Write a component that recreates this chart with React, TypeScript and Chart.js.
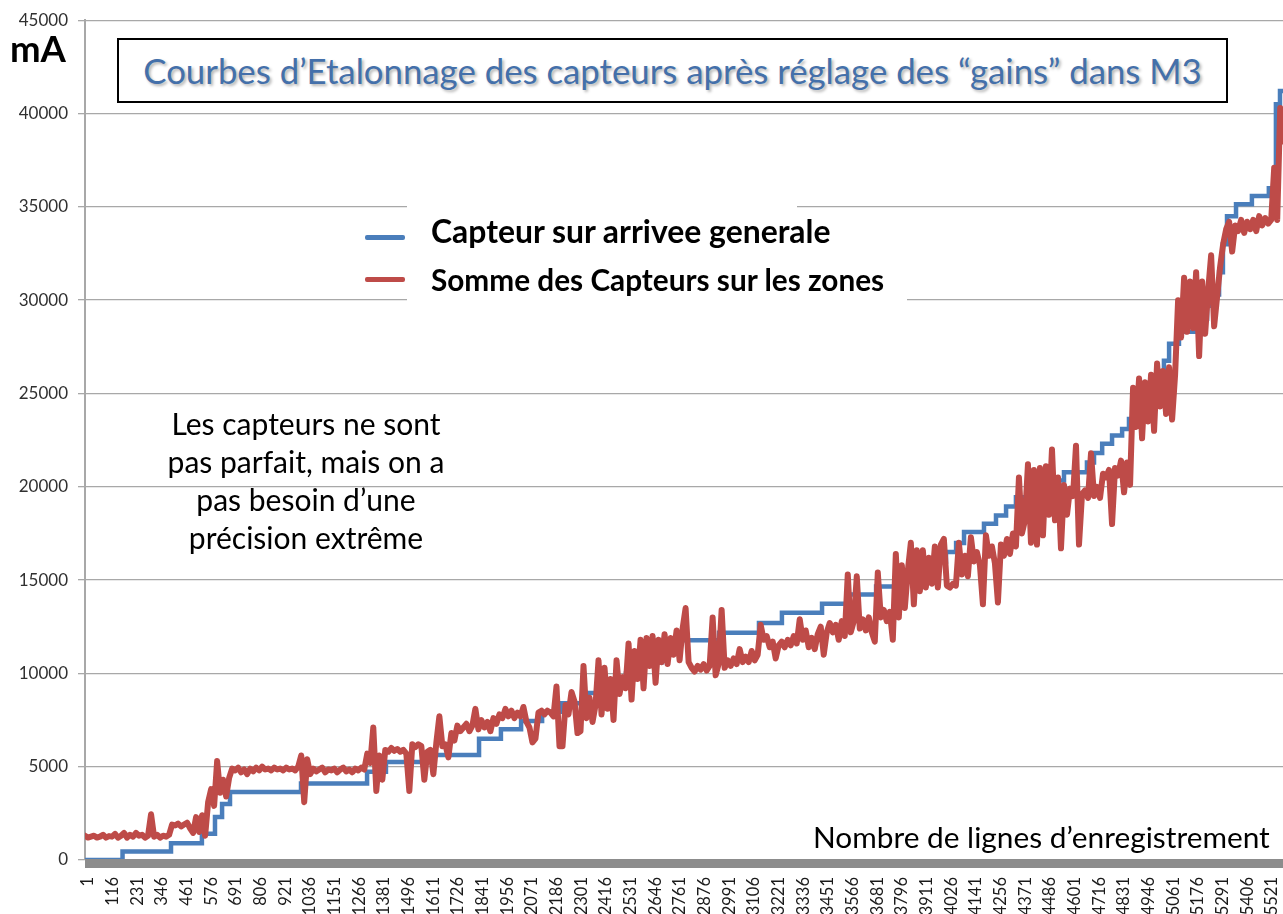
import React, { useEffect, useRef, useMemo } from "react";
import { Chart, registerables } from "chart.js";

Chart.register(...registerables);

// ---------- data ----------
const X_TICK_LABELS = [
  1, 116, 231, 346, 461, 576, 691, 806, 921, 1036, 1151, 1266, 1381, 1496, 1611, 1726,
  1841, 1956, 2071, 2186, 2301, 2416, 2531, 2646, 2761, 2876, 2991, 3106, 3221, 3336,
  3451, 3566, 3681, 3796, 3911, 4026, 4141, 4256, 4371, 4486, 4601, 4716, 4831, 4946,
  5061, 5176, 5291, 5406, 5521,
];
const Y_TICK_VALUES = [0, 5000, 10000, 15000, 20000, 25000, 30000, 35000, 40000, 45000];
const X_MIN = 1;
const X_MAX = 5600;

// "Capteur sur arrivee generale" : step levels (record where the level starts, value in mA)
const BLUE_RECORDS = [
  1, 176, 402, 546, 607, 640, 677, 1008, 1316, 1404, 1619, 1838, 1940, 2034, 2132, 2225,
  2341, 2430, 2523, 2607, 2691, 2770, 2957, 3143, 3250, 3437, 3563, 3689, 3796, 3903,
  3982, 4015, 4062, 4099, 4192, 4248, 4295, 4341, 4416, 4495, 4565, 4672, 4705, 4743,
  4789, 4836, 4868, 4915, 4962, 4999, 5031, 5055, 5101, 5171, 5232, 5264, 5288, 5306,
  5325, 5367, 5441, 5520, 5553, 5572, 5600,
];
const BLUE_VALUES = [
  0, 450, 900, 1400, 2300, 3000, 3650, 4100, 4730, 5250, 5620, 6500, 7000, 7450, 7950, 8400,
  8950, 9480, 10000, 10600, 11200, 11770, 12180, 12700, 13250, 13735, 14230, 14660, 15070, 15520,
  16000, 16500, 16980, 17570, 18020, 18460, 18940, 19440, 19890, 20330, 20780, 21300, 21815, 22300,
  22740, 23100, 23630, 24500, 25500, 26200, 26750, 27660, 28300, 29000, 29700, 30300, 31500, 33000,
  34500, 35140, 35580, 35990, 40500, 41200, 41500,
];

// "Somme des Capteurs sur les zones" : one reading every RED_RECORD_STEP records
const RED_FIRST_RECORD = 1;
const RED_RECORD_STEP = 14;
const RED_VALUES = [
  1300, 1200, 1250, 1300, 1200, 1250, 1350, 1200, 1280, 1250,
  1400, 1200, 1300, 1450, 1200, 1350, 1250, 1450, 1300, 1350,
  1200, 1300, 2450, 1250, 1350, 1200, 1300, 1250, 1350, 1900,
  1850, 1950, 1800, 1900, 2000, 1700, 1450, 2300, 1500, 2400,
  1300, 3100, 3800, 2900, 5300, 3600, 4300, 3400, 4400, 4900,
  4800, 4950, 4700, 4850, 4600, 4900, 4750, 4950, 4800, 5000,
  4850, 4900, 4800, 4950, 4850, 4900, 4800, 4950, 4850, 4900,
  4800, 5000, 5600, 3100, 5400, 4600, 4900, 4750, 4850, 4950,
  4700, 4850, 4800, 4900, 4700, 4850, 4950, 4750, 4850, 4700,
  4900, 4800, 4950, 4850, 5700, 5200, 7100, 3700, 5600, 4300,
  5900, 5800, 6000, 5850, 5950, 5800, 5900, 5700, 3700, 6200,
  6050, 6200, 6100, 4300, 5800, 5900, 4600, 6300, 7700, 6100,
  6200, 5500, 6800, 6400, 7200, 6900, 7100, 7300, 6900, 7200,
  8100, 7000, 7500, 7100, 7400, 6900, 7600, 7300, 7800, 7600,
  8100, 7700, 8000, 7600, 7900, 7700, 8200, 7400, 7100, 6300,
  6500, 7900, 8000, 7800, 8000, 7900, 7700, 9300, 6100, 6100,
  8300, 7800, 9000, 8500, 6800, 6900, 10400, 7600, 8700, 7400,
  8300, 10700, 7800, 10300, 8100, 9700, 7500, 10700, 8900, 9800,
  9200, 11600, 8600, 11200, 9700, 11800, 9200, 11900, 10400, 12000,
  9500, 11800, 10600, 12100, 10500, 11900, 11000, 12300, 10700, 12400,
  13500, 10600, 10300, 10100, 10400, 10200, 10500, 10150, 10400, 13000,
  9900, 10500, 13400, 10300, 10700, 10400, 10800, 10500, 11300, 10600,
  10900, 10600, 11200, 10700, 11000, 12600, 11800, 12000, 11400, 11700,
  10800, 11500, 11700, 11400, 11800, 11500, 12000, 11600, 12900, 11800,
  12300, 11400, 11900, 11300, 12100, 12500, 11000, 12200, 12700, 12200,
  12600, 11800, 12800, 12000, 15300, 12200, 12800, 15200, 12400, 12900,
  12300, 13000, 12200, 11700, 15400, 13000, 13400, 12800, 13300, 11800,
  16400, 13000, 15800, 13500, 15500, 17000, 13700, 16600, 14400, 16600,
  14600, 16200, 14800, 16800, 14600, 16900, 17200, 14700, 14600, 14800,
  14700, 17000, 15300, 16300, 15200, 17300, 16000, 16500, 15800, 13700,
  17400, 16300, 16800, 15900, 13800, 16900, 16300, 17200, 16400, 17500,
  16800, 20500, 17500, 18200, 21200, 17000, 20900, 16900, 21000, 17400,
  21100, 18500, 22000, 18200, 20500, 16700, 20100, 18500, 19900, 19500,
  22200, 16900, 19600, 19800, 19400, 21800, 19500, 20000, 19400, 20700,
  20500, 20900, 18000, 21000, 20600, 21400, 19700, 21300, 20100, 25300,
  23200, 25800, 22600, 25600, 23500, 26000, 23000, 26600, 24300, 26200,
  23900, 26400, 23600, 26000, 30000, 28000, 31200, 28300, 31000, 28500,
  31500, 27000, 31000, 28200, 30500, 32400, 28600, 30200, 31800, 33000,
  33800, 34200, 32600, 34000, 33700, 34300, 33600, 34200, 33800, 34300,
  33700, 34500, 34000, 34400, 34100, 34300, 37100, 34300, 40300, 38500,
];

const TITLE = "Courbes d\u2019Etalonnage des capteurs apr\u00e8s r\u00e9glage des \u201cgains\u201d dans M3";
const UNIT = "mA";
const LEGEND_BLUE = "Capteur sur arrivee generale";
const LEGEND_RED = "Somme des Capteurs sur les zones";
const NOTE_LINES = [
  "Les capteurs ne sont",
  "pas parfait, mais on a",
  "pas besoin d\u2019une",
  "pr\u00e9cision extr\u00eame",
];
const X_TITLE = "Nombre de lignes d\u2019enregistrement";

const BLUE = "#4A7EBB";
const RED = "#BE4B48";
const GRID = "#a8a8a8";
const FONT = "Lato, 'Open Sans', sans-serif";

function fitFontSize(text: string, weight: string, width: number): number {
  const c = document.createElement("canvas").getContext("2d");
  if (!c) return 24;
  c.font = `${weight} 100px Lato`;
  const w = c.measureText(text).width;
  return w > 0 ? (100 * width) / w : 24;
}

const axisBarPlugin = {
  id: "axisBar",
  afterDatasetsDraw(chart: any) {
    const { ctx, chartArea } = chart;
    ctx.save();
    ctx.fillStyle = "#8c8c8c";
    ctx.fillRect(chartArea.left, chartArea.bottom - 1, chartArea.right - chartArea.left, 9);
    ctx.restore();
  },
};

export default function App() {
  const canvasRef = useRef<HTMLCanvasElement>(null);

  const sizes = useMemo(
    () => ({
      unit: fitFontSize(UNIT, "bold", 56),
      title: fitFontSize(TITLE, "normal", 1059),
      legBlue: fitFontSize(LEGEND_BLUE, "bold", 401),
      legRed: fitFontSize(LEGEND_RED, "bold", 454),
      note: fitFontSize(NOTE_LINES[1], "normal", 277),
      xTitle: fitFontSize(X_TITLE, "normal", 457),
    }),
    []
  );

  useEffect(() => {
    const canvas = canvasRef.current;
    if (!canvas) return;
    const redData = RED_VALUES.map((y, i) => ({ x: RED_FIRST_RECORD + i * RED_RECORD_STEP, y }));
    const blueData = BLUE_RECORDS.map((x, i) => ({ x, y: BLUE_VALUES[i] }));
    const chart = new Chart(canvas, {
      type: "line",
      data: {
        datasets: [
          {
            label: LEGEND_RED,
            data: redData,
            borderColor: RED,
            backgroundColor: RED,
            borderWidth: 6,
            pointRadius: 0,
            tension: 0,
            borderJoinStyle: "round",
            borderCapStyle: "round",
            order: 0,
          },
          {
            label: LEGEND_BLUE,
            data: blueData,
            borderColor: BLUE,
            backgroundColor: BLUE,
            borderWidth: 4.5,
            pointRadius: 0,
            stepped: "before",
            order: 1,
          },
        ],
      },
      options: {
        animation: false,
        responsive: false,
        maintainAspectRatio: false,
        layout: { padding: { top: 19, left: 0, right: 0, bottom: 0 } },
        plugins: {
          legend: { display: false },
          tooltip: { enabled: false },
          title: { display: false },
        },
        scales: {
          x: {
            type: "linear",
            min: X_MIN,
            max: X_MAX,
            afterBuildTicks: (scale: any) => {
              scale.ticks = X_TICK_LABELS.map((v) => ({ value: v }));
            },
            afterFit: (scale: any) => {
              scale.height = 100;
              scale.paddingLeft = 0;
              scale.paddingRight = 0;
            },
            grid: { display: false, drawTicks: false },
            border: { display: false },
            ticks: {
              autoSkip: false,
              minRotation: 90,
              maxRotation: 90,
              padding: 17,
              labelOffset: 3,
              color: "#1a1a1a",
              font: { family: FONT, size: 16.5 },
              callback: (v: any) => String(v),
            },
          },
          y: {
            type: "linear",
            min: 0,
            max: 45000,
            afterBuildTicks: (scale: any) => {
              scale.ticks = Y_TICK_VALUES.map((v) => ({ value: v }));
            },
            afterFit: (scale: any) => {
              scale.width = 85;
            },
            grid: { color: GRID, lineWidth: 1.3, tickLength: 7, tickColor: GRID },
            border: { color: GRID, width: 2 },
            ticks: {
              padding: 10,
              color: "#303030",
              font: { family: FONT, size: 17 },
              callback: (v: any) => String(v),
            },
          },
        },
      },
      plugins: [axisBarPlugin],
    } as any);
    return () => chart.destroy();
  }, []);

  const abs = (extra: React.CSSProperties): React.CSSProperties => ({
    position: "absolute",
    whiteSpace: "nowrap",
    fontFamily: FONT,
    ...extra,
  });

  const noteLH = 37.8;

  return (
    <div
      style={{
        position: "absolute",
        left: 0,
        top: 0,
        width: 1283,
        height: 914,
        overflow: "hidden",
        background: "#fff",
      }}
    >
      <canvas
        ref={canvasRef}
        width={1286}
        height={960}
        style={{ position: "absolute", left: 0, top: 0, display: "block" }}
      />

      {/* unit */}
      <div
        style={abs({
          left: 10,
          top: 62.7 - 0.887 * sizes.unit,
          fontSize: sizes.unit,
          lineHeight: `${sizes.unit}px`,
          fontWeight: "bold",
          color: "#000",
        })}
      >
        {UNIT}
      </div>

      {/* title box */}
      <div
        style={{
          position: "absolute",
          left: 117,
          top: 38,
          width: 1111,
          height: 65,
          boxSizing: "border-box",
          border: "2px solid #000",
          background: "#fff",
          display: "flex",
          alignItems: "center",
          justifyContent: "center",
        }}
      >
        <span
          style={{
            fontFamily: FONT,
            fontSize: sizes.title,
            lineHeight: `${sizes.title * 1.2}px`,
            color: "#4470AA",
            whiteSpace: "nowrap",
            textShadow: "2px 2px 3px rgba(0,0,0,0.3)",
          }}
        >
          {TITLE}
        </span>
      </div>

      {/* legend */}
      <div style={{ position: "absolute", left: 407, top: 204, width: 390, height: 60, background: "#fff" }} />
      <div style={{ position: "absolute", left: 407, top: 262, width: 500, height: 42, background: "#fff" }} />
      <div
        style={{ position: "absolute", left: 365, top: 235, width: 40, height: 5, borderRadius: 2, background: BLUE }}
      />
      <div
        style={{ position: "absolute", left: 365, top: 277, width: 40, height: 5, borderRadius: 2, background: RED }}
      />
      <div
        style={abs({
          left: 431,
          top: 244 - 0.887 * sizes.legBlue,
          fontSize: sizes.legBlue,
          lineHeight: `${sizes.legBlue}px`,
          fontWeight: "bold",
          color: "#000",
        })}
      >
        {LEGEND_BLUE}
      </div>
      <div
        style={abs({
          left: 431,
          top: 291 - 0.887 * sizes.legRed,
          fontSize: sizes.legRed,
          lineHeight: `${sizes.legRed}px`,
          fontWeight: "bold",
          color: "#000",
        })}
      >
        {LEGEND_RED}
      </div>

      {/* note */}
      <div
        style={abs({
          left: 306 - 200,
          width: 400,
          top: 436 - noteLH / 2 - 0.387 * sizes.note,
          fontSize: sizes.note,
          lineHeight: `${noteLH}px`,
          textAlign: "center",
          color: "#000",
        })}
      >
        {NOTE_LINES.map((l) => (
          <div key={l}>{l}</div>
        ))}
      </div>

      {/* x axis title */}
      <div
        style={abs({
          left: 813,
          top: 848 - 0.887 * sizes.xTitle,
          fontSize: sizes.xTitle,
          lineHeight: `${sizes.xTitle}px`,
          color: "#000",
        })}
      >
        {X_TITLE}
      </div>
    </div>
  );
}
